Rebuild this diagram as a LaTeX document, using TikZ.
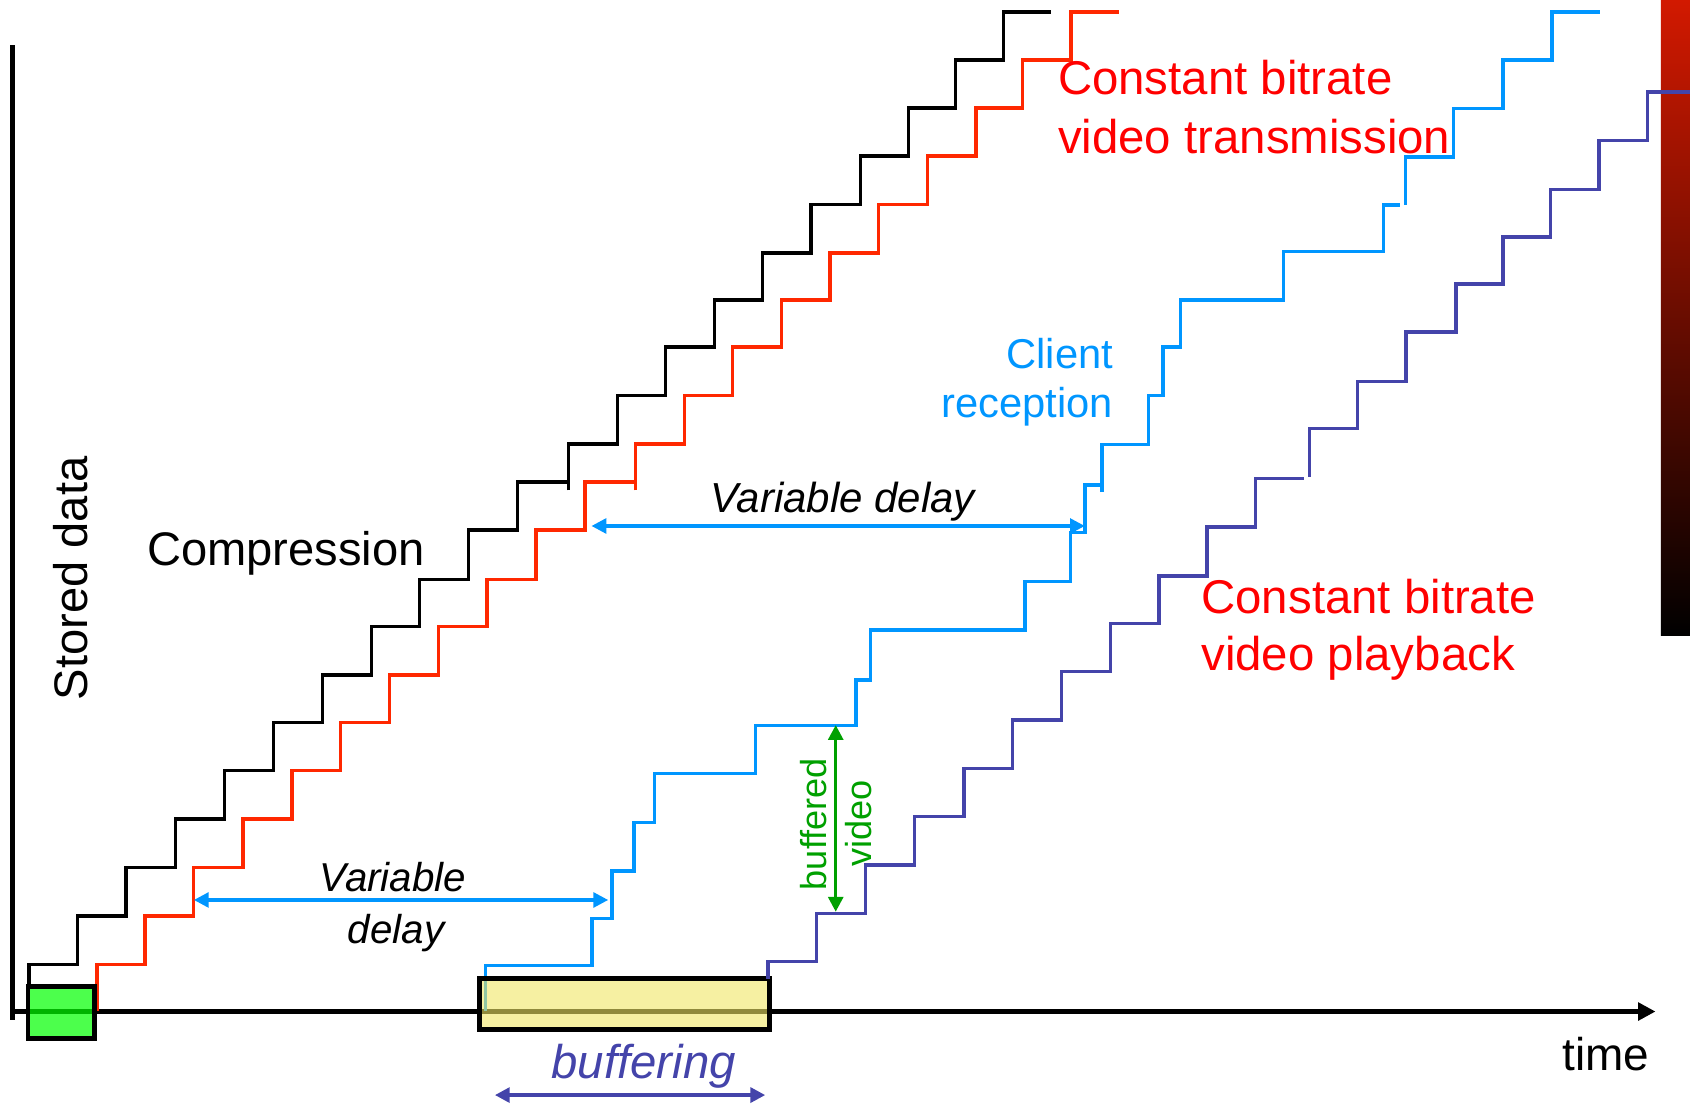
\documentclass[tikz,border=0pt]{standalone}
\usepackage{fontspec}
\setmainfont{Liberation Sans}
\usetikzlibrary{arrows.meta}

\definecolor{stepred}{RGB}{255,40,0}
\definecolor{txtred}{RGB}{255,0,0}
\definecolor{recvblue}{RGB}{0,150,255}
\definecolor{playblue}{RGB}{68,68,170}
\definecolor{bufgreen}{RGB}{0,160,0}
\definecolor{boxyellow}{RGB}{240,230,100}
\definecolor{barred}{RGB}{210,25,0}

\tikzset{
  stair/.style={line width=0.9pt, line join=miter},
  axisline/.style={line width=1.2pt},
  span/.style={line width=0.85pt, {Triangle[length=3.9pt,width=3.9pt]}-{Triangle[length=3.9pt,width=3.9pt]}},
  lbl/.style={inner sep=0pt, anchor=base west},
  lblr/.style={inner sep=0pt, anchor=base east},
  big/.style={font=\fontsize{12.5pt}{15pt}\selectfont},
}

\begin{document}
\begin{tikzpicture}[x=0.01cm, y=-0.01cm]
\fill[white] (0,0) rectangle (1568,1026);
\useasboundingbox (0,0) rectangle (1568,1026);

% side bar
\shade[top color=barred, bottom color=black] (1541,0) rectangle (1568,590);

% axes
\coordinate (yTop) at (11.8,42);
\coordinate (yBot) at (11.8,946);
\coordinate (xLeft) at (9.5,938.5);
\coordinate (xRight) at (1536,938.5);
\draw[axisline] (yTop) -- (yBot);
\draw[axisline, -{Triangle[length=4.6pt,width=4.6pt]}] (xLeft) -- (xRight);

% compression
\draw[stair, black] (27,915) |- (72,895) |- (117,850) |- (163,805) |- (208.3,760) |- (253.5,715)
  |- (299,670.5) |- (344.6,626.3) |- (389.3,581.5) |- (434.9,537.5) |- (480.4,491.7) |- (527.3,447)
  (527.3,455) |- (572.8,411.8) |- (617.2,367.2) |- (662.7,322) |- (707.5,278.3) |- (752.6,234.7)
  |- (798.2,189.8) |- (842.9,144.7) |- (886.4,100.1) |- (931.2,55.7) |- (975.4,11);

% constant bitrate transmission
\draw[stair, stepred] (90,938) |- (134.5,895) |- (179.5,850) |- (225.5,805) |- (270.8,760) |- (316,715)
  |- (361.5,670.5) |- (407.1,626.3) |- (451.8,581.5) |- (497.4,537.5) |- (542.9,491.7) |- (589.8,447)
  (589.8,455) |- (635.3,411.8) |- (679.7,367.2) |- (725.2,322) |- (770,278.3) |- (815.1,234.7)
  |- (860.7,189.8) |- (905.4,144.7) |- (948.9,100.1) |- (993.7,55.7) |- (1037.9,11);

% client reception
\draw[stair, recvblue] (450.6,938) |- (549.1,896) |- (568,852) |- (588.4,808) |- (607.3,763.3)
  |- (701,717.5) |- (794.1,673.3) |- (807.6,630.9) |- (951.1,584.5) |- (993.3,539.7) |- (1006.7,494)
  |- (1021,450)
  (1022.5,456.6) |- (1065.5,412.5) |- (1079,367.2) |- (1095.5,322) |- (1190.7,278.3) |- (1283.5,233.6)
  |- (1299,190)
  (1304,190) |- (1348.8,145.8) |- (1394.5,100.4) |- (1440,55.7) |- (1484.5,11);

% buffers
\draw[line width=1.3pt, fill=green, fill opacity=0.7] (26,915.4) rectangle (87.6,963.4);
\draw[line width=1.3pt, fill=boxyellow, fill opacity=0.6] (445,908) rectangle (714,955);

% constant bitrate playback
\draw[stair, playblue] (712.7,908) |- (757.8,892.3) |- (802.9,847.4) |- (848.6,802.6) |- (894.3,757.7)
  |- (939.4,712.9) |- (985,668) |- (1030.3,623.2) |- (1075.4,578.3) |- (1120,534.4) |- (1165,489)
  |- (1210,444)
  (1215.2,442.4) |- (1259.7,397.6) |- (1304.6,353.9) |- (1350.9,308.1) |- (1394.5,263.5)
  |- (1438.8,219.7) |- (1483.6,175.6) |- (1528.7,130.2) |- (1568,85.5);

% delay and buffer spans
\coordinate (vdTopL) at (548.8,488);
\coordinate (vdTopR) at (1006.5,488);
\coordinate (vdLowL) at (179.9,835);
\coordinate (vdLowR) at (564.3,835);
\coordinate (bufL) at (459.2,1016);
\coordinate (bufR) at (710,1016);
\coordinate (bvTop) at (775.4,672.7);
\coordinate (bvBot) at (775.4,845.9);
\draw[span, recvblue] (vdTopL) -- (vdTopR);
\draw[span, recvblue] (vdLowL) -- (vdLowR);
\draw[span, playblue, line width=0.95pt] (bufL) -- (bufR);
\draw[span, bufgreen] (bvTop) -- (bvBot);

% labels
\node[lbl, big, txtred] (txA) at (981,87.8) {Constant bitrate};
\node[lbl, big, txtred] (txB) at (981,142.5) {video transmission};
\node[lbl, big, txtred] (pbA) at (1114,569) {Constant bitrate};
\node[lbl, big, txtred] (pbB) at (1114,622.3) {video playback};
\node[lblr, recvblue, font=\fontsize{11pt}{13pt}\selectfont] (rcA) at (1033.4,341.6) {Client};
\node[lblr, recvblue, font=\fontsize{11pt}{13pt}\selectfont] (rcB) at (1033.4,387.7) {reception};
\node[lbl, font=\fontsize{12.43pt}{15pt}\selectfont] (comp) at (135.9,525) {Compression};
\node[inner sep=0pt, anchor=base, rotate=90, font=\fontsize{12.43pt}{15pt}\selectfont] (ylab) at (80.8,536.6) {Stored data};
\node[lbl, font=\fontsize{11.07pt}{13pt}\selectfont\itshape] (vdTop) at (658.5,475.5) {Variable delay};
\node[lbl, font=\fontsize{10.64pt}{13pt}\selectfont\itshape] (vdLowA) at (295.9,827.3) {Variable};
\node[lbl, font=\fontsize{10.64pt}{13pt}\selectfont\itshape] (vdLowB) at (322,875.2) {delay};
\node[lbl, playblue, font=\fontsize{12.49pt}{15pt}\selectfont\itshape] (bufLbl) at (511,1000.5) {buffering};
\node[lbl, font=\fontsize{12.12pt}{15pt}\selectfont] (tLbl) at (1449,993.4) {time};
\node[inner sep=0pt, anchor=base, rotate=90, bufgreen, font=\fontsize{9.53pt}{11pt}\selectfont] (bvA) at (766.7,764.7) {buffered};
\node[inner sep=0pt, anchor=base, rotate=90, bufgreen, font=\fontsize{9.53pt}{11pt}\selectfont] (bvB) at (808.8,764) {video};
\end{tikzpicture}
\end{document}
